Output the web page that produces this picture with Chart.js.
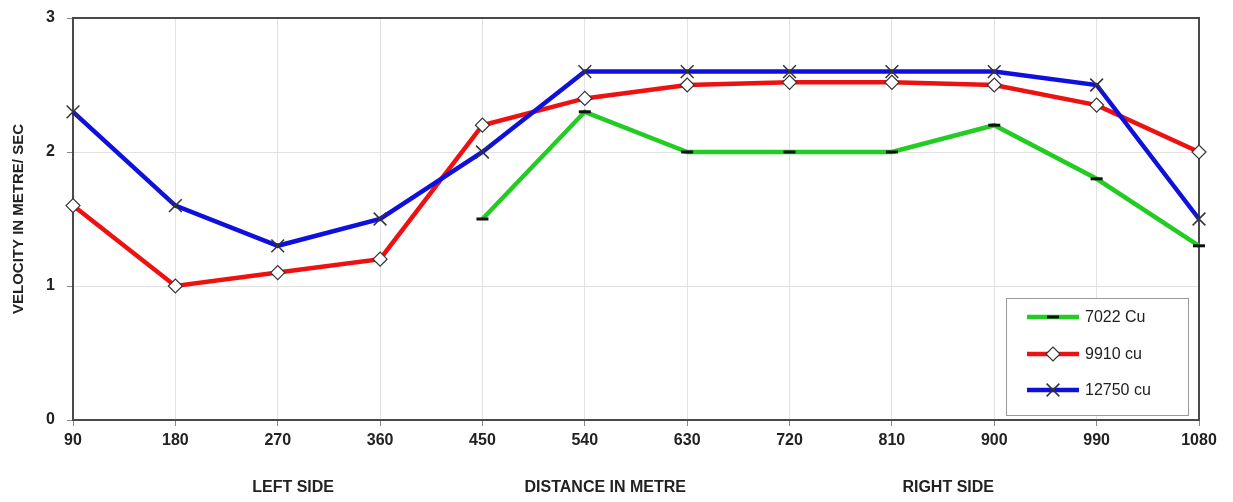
<!DOCTYPE html>
<html><head><meta charset="utf-8">
<script src="https://cdn.jsdelivr.net/npm/chart.js@4/dist/chart.umd.min.js"></script>
<style>html,body{margin:0;padding:0;background:#fff;}#wrap{width:1233px;height:502px;position:relative;}</style>
</head><body><div id="wrap"><canvas id="c" width="1233" height="502"></canvas></div>
<script>
const categories = ['90','180','270','360','450','540','630','720','810','900','990','1080'];
const cu7022  = [null, null, null, null, 1.5, 2.3, 2.0, 2.0, 2.0, 2.2, 1.8, 1.3];
const cu9910  = [1.6, 1.0, 1.1, 1.2, 2.2, 2.4, 2.5, 2.52, 2.52, 2.5, 2.35, 2.0];
const cu12750 = [2.3, 1.6, 1.3, 1.5, 2.0, 2.6, 2.6, 2.6, 2.6, 2.6, 2.5, 1.5];
const seriesNames = ['7022 Cu', '9910 cu', '12750 cu'];
const yTicks = [0, 1, 2, 3];
const sideLabels = ['LEFT SIDE', 'DISTANCE IN METRE', 'RIGHT SIDE'];
const sideLabelPos = [2.15, 5.2, 8.55];

const FONT = 'Liberation Sans, Arial, sans-serif';

function drawMarker(ctx, ds, x, y) {
  ctx.save();
  ctx.strokeStyle = ds.pointBorderColor;
  ctx.fillStyle = ds.pointBackgroundColor;
  ctx.lineWidth = ds.pointBorderWidth;
  Chart.helpers.drawPoint(ctx, {pointStyle: ds.pointStyle, radius: ds.pointRadius, borderWidth: ds.pointBorderWidth, rotation: 0}, x, y);
  ctx.restore();
}

const framePlugin = {
  id: 'frame',
  beforeDatasetsDraw(chart) {
    const {ctx, chartArea: a} = chart;
    ctx.save();
    ctx.strokeStyle = '#4a4a4a';
    ctx.lineWidth = 2;
    ctx.strokeRect(a.left, a.top, a.right - a.left, a.bottom - a.top);
    ctx.restore();
  },
  afterDraw(chart) {
    const {ctx, chartArea: a} = chart;
    const xs = chart.scales.x;
    ctx.save();
    ctx.font = 'bold 16px ' + FONT;
    ctx.fillStyle = '#222';
    ctx.textAlign = 'center';
    ctx.textBaseline = 'middle';
    sideLabels.forEach((t, i) => {
      const f = Math.floor(sideLabelPos[i]);
      const p0 = xs.getPixelForValue(f);
      const p1 = xs.getPixelForValue(f + 1);
      const x = p0 + (p1 - p0) * (sideLabelPos[i] - f);
      ctx.fillText(t, x, 488);
    });
    const bx = a.right - 193, by = a.bottom - 122, bw = 182, bh = 117;
    ctx.fillStyle = '#fff';
    ctx.fillRect(bx, by, bw, bh);
    ctx.strokeStyle = '#9a9a9a';
    ctx.lineWidth = 1;
    ctx.strokeRect(bx + 0.5, by + 0.5, bw, bh);
    const rows = [by + 19, by + 56, by + 92];
    chart.data.datasets.forEach((ds, i) => {
      const y = rows[i];
      const x0 = bx + 21, x1 = bx + 73, xm = (x0 + x1) / 2;
      ctx.strokeStyle = ds.borderColor;
      ctx.lineWidth = ds.borderWidth;
      ctx.beginPath(); ctx.moveTo(x0, y); ctx.lineTo(x1, y); ctx.stroke();
      drawMarker(ctx, ds, xm, y);
      ctx.font = '16px ' + FONT;
      ctx.fillStyle = '#222';
      ctx.textAlign = 'left';
      ctx.textBaseline = 'middle';
      ctx.fillText(ds.label, x1 + 6, y + 1);
    });
    ctx.restore();
  }
};

new Chart(document.getElementById('c'), {
  type: 'line',
  data: {
    labels: categories,
    datasets: [
      { label: seriesNames[0], data: cu7022, borderColor: '#22cc22', borderWidth: 4.5,
        pointStyle: 'line', pointRadius: 6, pointBorderColor: '#111', pointBackgroundColor: '#111',
        pointBorderWidth: 3, spanGaps: false, clip: false, order: 3, tension: 0 },
      { label: seriesNames[1], data: cu9910, borderColor: '#ee1111', borderWidth: 4.5,
        pointStyle: 'rectRot', pointRadius: 7, pointBorderColor: '#333', pointBackgroundColor: '#fff',
        pointBorderWidth: 1.2, clip: false, order: 2, tension: 0 },
      { label: seriesNames[2], data: cu12750, borderColor: '#1010dd', borderWidth: 4.5,
        pointStyle: 'crossRot', pointRadius: 9, pointBorderColor: '#333', pointBackgroundColor: '#333',
        pointBorderWidth: 1.5, clip: false, order: 1, tension: 0 }
    ]
  },
  options: {
    responsive: false,
    animation: false,
    devicePixelRatio: 1,
    layout: { padding: { left: 0, right: 34, top: 18, bottom: 0 } },
    plugins: { legend: { display: false }, tooltip: { enabled: false } },
    scales: {
      x: {
        offset: false,
        grid: { color: '#e2e2e2', lineWidth: 1, tickLength: 6, tickColor: '#888', drawTicks: true },
        border: { display: false },
        ticks: { color: '#222', font: { family: FONT, size: 16, weight: 'bold' }, padding: 5, maxRotation: 0, autoSkip: false },
        afterFit(s) { s.height = 82; }
      },
      y: {
        min: 0, max: 3,
        afterBuildTicks(s) { s.ticks = yTicks.map(v => ({ value: v })); },
        grid: { color: '#e2e2e2', lineWidth: 1, tickLength: 6, tickColor: '#888' },
        border: { display: false },
        ticks: { color: '#222', font: { family: FONT, size: 16, weight: 'bold' }, padding: 12 },
        title: { display: true, text: 'VELOCITY IN METRE/ SEC', color: '#222', font: { family: FONT, size: 15, weight: 'bold' }, padding: { top: 10, bottom: 4 } },
        afterFit(s) { s.width = 73; s.paddingTop = 0; s.paddingBottom = 0; }
      }
    }
  },
  plugins: [framePlugin]
});
</script></body></html>
